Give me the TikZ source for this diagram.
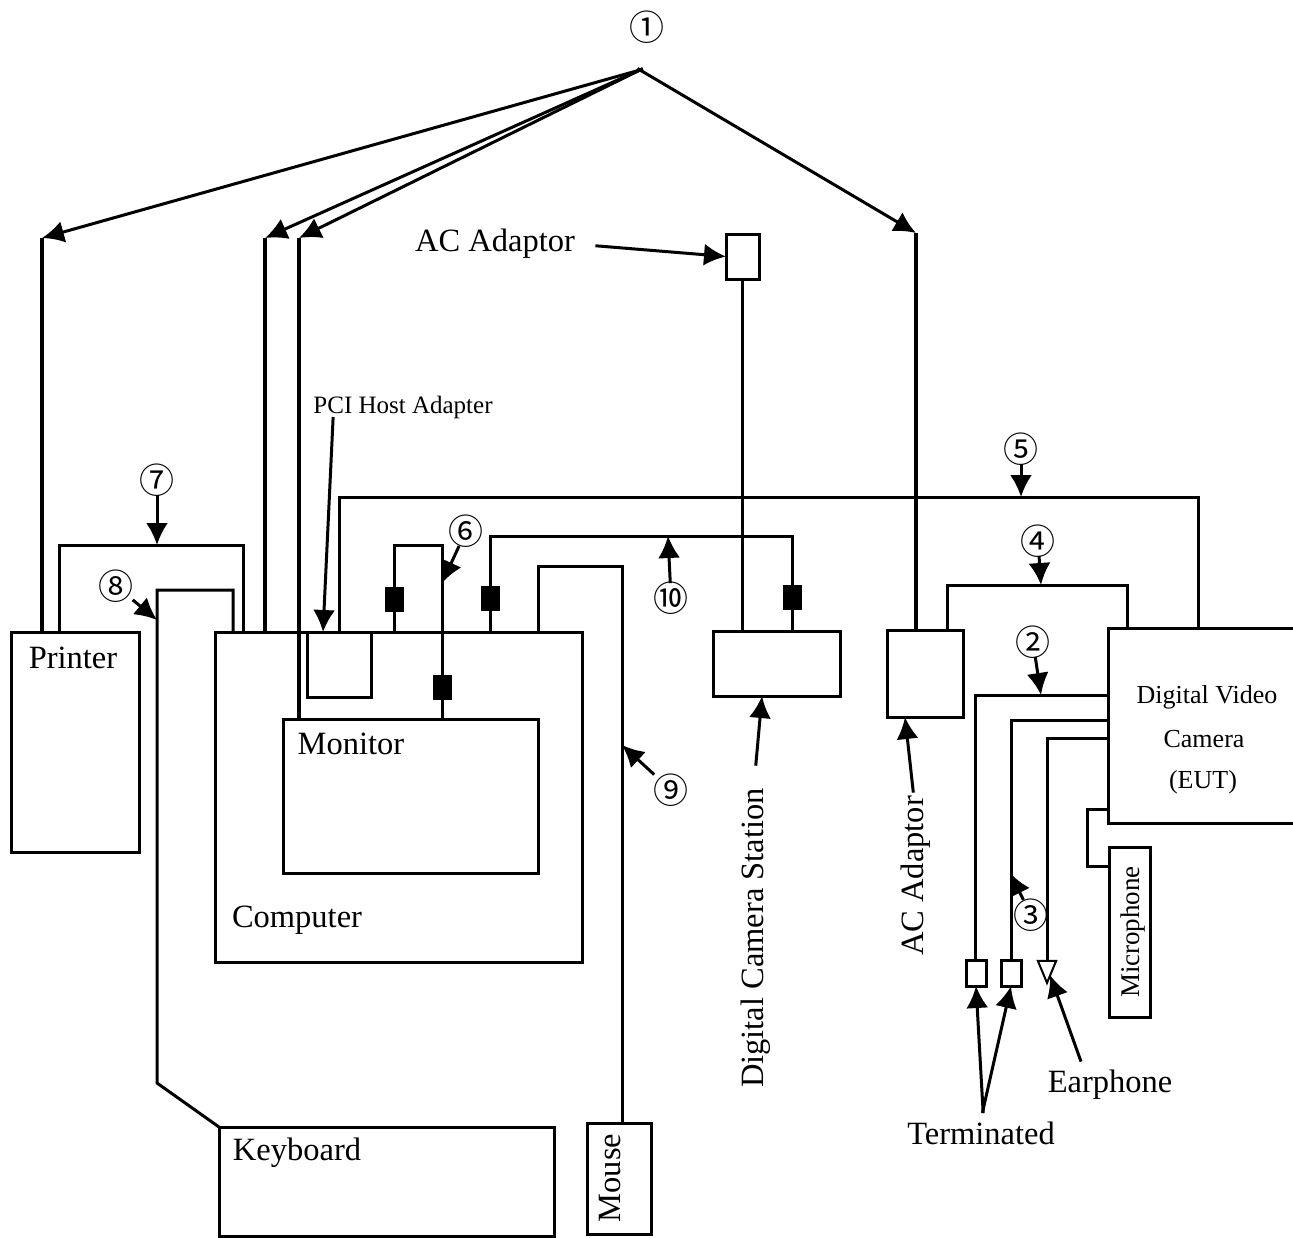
\documentclass[tikz,border=0pt]{standalone}
\usepackage{fontspec}
\setmainfont{Liberation Serif}
\newfontfamily\numfont{Noto Sans CJK JP}
\usetikzlibrary{arrows.meta,shapes.geometric}
\tikzset{
    box/.style={draw,anchor=north west,inner sep=0pt,outer sep=0pt},
    plug/.style={draw,fill=black,minimum width=16pt,minimum height=22pt,inner sep=0pt,outer sep=0pt},
    term/.style={draw,fill=white,minimum width=20pt,minimum height=26pt,inner sep=0pt,outer sep=0pt},
    lbl/.style={font=\fontsize{32.5}{36}\selectfont,inner sep=0pt},
    small/.style={font=\fontsize{26}{30}\selectfont,inner sep=0pt},
    num/.style={font=\numfont\fontsize{35}{40}\selectfont,inner sep=0pt},
    tip/.style={-{Latex[length=22pt,width=22pt]},line width=3pt,shorten <=-3pt},
    cable/.style={line width=3pt,line join=miter},
    thick cable/.style={line width=3.6pt}
}
\begin{document}
\begin{tikzpicture}[x=1pt,y=-1pt,line width=3pt]
    \useasboundingbox (0,0) rectangle (1293,1237);
    % boxes
    \node[box,minimum width=128pt,minimum height=220pt] (printer) at (11,632) {};
    \node[box,minimum width=367pt,minimum height=330pt] (computer) at (215,632) {};
    \node[box,minimum width=64pt,minimum height=65pt] (pci) at (307,632) {};
    \node[box,minimum width=255pt,minimum height=154pt] (monitor) at (283,719) {};
    \node[box,minimum width=127pt,minimum height=65pt] (station) at (713,631) {};
    \node[box,minimum width=76pt,minimum height=87pt] (adaptorb) at (887,630) {};
    \node[box,minimum width=33pt,minimum height=45pt] (adaptora) at (726,234) {};
    \node[box,minimum width=187pt,minimum height=195pt] (camera) at (1108,628) {};
    \node[box,minimum width=41pt,minimum height=170pt] (mic) at (1109,847) {};
    \node[box,minimum width=335pt,minimum height=109pt] (keyboard) at (219,1127) {};
    \node[box,minimum width=64pt,minimum height=111pt] (mouse) at (587,1123) {};
    % texts
    \node[lbl] (tprinter) at (73,658) {Printer};
    \node[lbl] (tmonitor) at (351,744) {Monitor};
    \node[lbl] (tcomputer) at (297,920) {Computer};
    \node[lbl] (tkeyboard) at (297,1153) {Keyboard};
    \node[lbl,rotate=90] (tmouse) at (610,1178) {Mouse};
    \node[lbl] (tadaptora) at (495,244) {AC Adaptor};
    \node[lbl,rotate=90] (tadaptorb) at (916,876) {AC Adaptor};
    \node[lbl,rotate=90] (tstation) at (756,938) {Digital Camera Station};
    \node[small,font=\fontsize{25}{30}\selectfont] (tpci) at (403,407) {PCI Host Adapter};
    \node[small] (tcam1) at (1207,697) {Digital Video};
    \node[small] (tcam2) at (1204,739) {Camera};
    \node[small] (tcam3) at (1203,782) {(EUT)};
    \node[small,rotate=90,font=\fontsize{27}{30}\selectfont] (tmic) at (1133,932) {Microphone};
    \node[lbl] (tterm) at (981,1133) {Terminated};
    \node[lbl] (tear) at (1110,1085) {Earphone};
    % circled numbers
    \node[num] (n1) at (647,27) {①};
    \node[num] (n2) at (1033,642) {②};
    \node[num] (n3) at (1031,915) {③};
    \node[num] (n4) at (1038,541) {④};
    \node[num] (n5) at (1021,449) {⑤};
    \node[num] (n6) at (466,531) {⑥};
    \node[num] (n7) at (157,480) {⑦};
    \node[num] (n8) at (116,586) {⑧};
    \node[num] (n9) at (671,790) {⑨};
    \node[num] (n10) at (671,598) {⑩};
    % power lines
    \coordinate (apex) at (640,70);
    \coordinate (ptop) at (42,238);
    \coordinate (ctop) at (265,238);
    \coordinate (mtop) at (299,238);
    \coordinate (atop) at (916,233);
    \draw[tip] (apex)--(ptop);
    \draw[tip] (apex)--(ctop);
    \draw[tip] (apex)--(mtop);
    \draw[tip] (apex)--(atop);
    \draw[thick cable] (ptop)--(printer.north -| ptop);
    \draw[thick cable] (ctop)--(computer.north -| ctop);
    \draw[thick cable] (mtop)--(monitor.north -| mtop);
    \draw[thick cable] (atop)--(adaptorb.north -| atop);
    \draw[cable] (adaptora.south)--(station.north -| adaptora.south);
    % cables
    \draw[cable] (printer.north -| 59,0)--(59,545)--(243,545)--(computer.north -| 243,0);
    \draw[cable] (keyboard.north west)--(157,1083)--(157,590)--(233,590)--(computer.north -| 233,0);
    \draw[cable] (computer.north -| 394,0)--(394,545)--(442,545)--(monitor.north -| 442,0);
    \draw[cable] (computer.north -| 490,0)--(490,536)--(792,536)--(station.north -| 792,0);
    \draw[cable] (computer.north -| 538,0)--(538,566)--(622,566)--(mouse.north -| 622,0);
    \draw[cable] (computer.north -| 339,0)--(339,497)--(1198,497)--(camera.north -| 1198,0);
    \draw[cable] (adaptorb.north -| 947,0)--(947,585)--(1127,585)--(camera.north -| 1127,0);
    \draw[cable] (camera.west |- 0,695)--(975,695)--(975,960);
    \draw[cable] (camera.west |- 0,720)--(1011,720)--(1011,960);
    \draw[cable] (camera.west |- 0,738)--(1047,738)--(1047,960);
    \draw[cable] (camera.west |- 0,809)--(1087,809)--(1087,866)--(mic.west |- 0,866);
    % connectors on the cables
    \node[plug] (p1) at (394,599) {};
    \node[plug] (p2) at (490,598) {};
    \node[plug] (p3) at (792,597) {};
    \node[plug] (p4) at (442,687) {};
    \node[term] (t1) at (976,973) {};
    \node[term] (t2) at (1011,973) {};
    \node[draw,isosceles triangle,isosceles triangle apex angle=45,shape border rotate=-90,fill=white,minimum height=22pt,inner sep=0pt,line width=2pt] (ear) at (1047,967) {};
    % pointers
    \draw[tip] (n2)--(1041,695);
    \draw[tip] (n3)--(1010,873);
    \draw[tip] (n4)--(1041,585);
    \draw[tip] (n5)--(1021,497);
    \draw[tip] (n6)--(442,583);
    \draw[tip] (n7)--(157,545);
    \draw[tip] (n8)--(157,620);
    \draw[tip] (n9)--(622,745);
    \draw[tip] (n10)--(668,536);
    \draw[tip] (tadaptora.east)++(22,2)--(adaptora.west);
    \draw[tip] (333,420)--(pci.north -| 323,0);
    \draw[tip] (tstation.east)++(0,-24)--(station.south -| 762,0);
    \draw[tip] (tadaptorb.east)++(-3,-5)--(adaptorb.south -| 905,0);
    \coordinate (tfork) at (983,1110);
    \draw[tip] (tfork)--(t1.south);
    \draw[tip] (tfork)--(t2.south);
    \draw[tip] (tear.north)++(-30,-10)--(1050,975);
\end{tikzpicture}
\end{document}
